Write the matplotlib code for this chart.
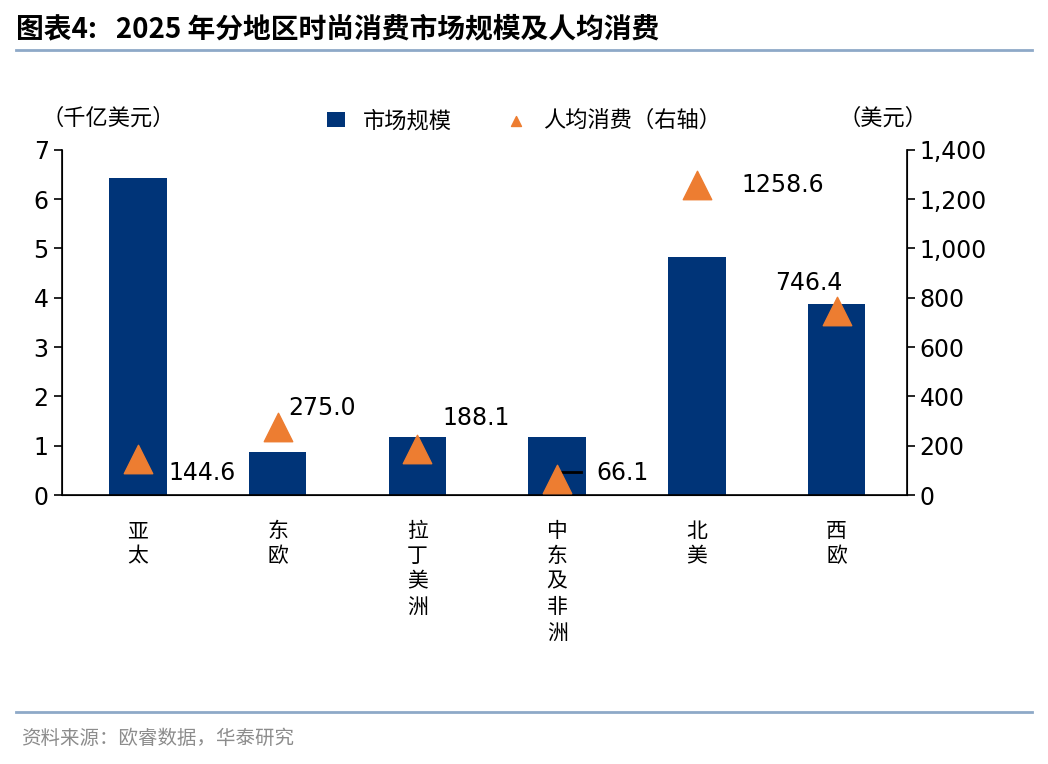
import matplotlib
matplotlib.use("Agg")
import matplotlib.pyplot as plt

plt.rcParams['font.family'] = ['Noto Sans CJK SC', 'DejaVu Sans']

regions = ["亚太", "东欧", "拉丁美洲", "中东及非洲", "北美", "西欧"]
market_size = [6.42, 0.88, 1.18, 1.18, 4.83, 3.87]
per_capita = [144.6, 275.0, 188.1, 66.1, 1258.6, 746.4]
label_offsets = [(22, -10), (8, 14), (18, 22), (28, 4), (32, 0), (-20, 20)]

bar_color = "#003478"
tri_color = "#ED7D31"

fig = plt.figure(figsize=(10.48, 7.64), dpi=100)
ax = fig.add_axes([0.059, 0.352, 0.806, 0.452])
ax2 = ax.twinx()

x = range(len(regions))
ax.bar(x, market_size, width=0.41, color=bar_color, label="市场规模")
ax2.scatter(x, per_capita, marker="^", s=420, color=tri_color, zorder=3,
            label="人均消费（右轴）")
for i, v in enumerate(per_capita):
    dx, dy = label_offsets[i]
    ax2.annotate(f"{v:.1f}", (i, v), xytext=(dx, dy), textcoords="offset points",
                 ha="left" if dx > 0 else "center", va="center", fontsize=17,
                 family="DejaVu Sans")
# small leader line for 中东及非洲
ax2.plot([3.03, 3.17], [95, 95], color="black", lw=2)

ax.set_xlim(-0.544, 5.5)
ax.set_ylim(0, 7)
ax2.set_ylim(0, 1400)
ax.set_yticks(range(8))
ax2.set_yticks(range(0, 1401, 200))
ax2.set_yticklabels([f"{v:,}" for v in range(0, 1401, 200)])
ax.set_xticks(list(x))
ax.set_xticklabels(["\n".join(r) for r in regions], fontsize=15, va="top",
                   linespacing=1.2)
for a in (ax, ax2):
    a.spines['top'].set_visible(False)
    a.tick_params(axis='y', labelsize=17, direction='out', length=6, width=1.2)
    for lab in a.get_yticklabels():
        lab.set_family("DejaVu Sans")
ax.tick_params(axis='x', length=0, pad=18)
ax2.spines['right'].set_linewidth(1.2)
ax.spines['left'].set_linewidth(1.2)
ax.spines['bottom'].set_linewidth(1.2)

h1, l1 = ax.get_legend_handles_labels()
h2, l2 = ax2.get_legend_handles_labels()
leg = fig.legend(h1 + h2, l1 + l2, loc="center", bbox_to_anchor=(0.5, 0.842),
                 ncol=2, frameon=False, fontsize=16, markerscale=0.35,
                 handlelength=0.8, columnspacing=2.5)

fig.text(0.04, 0.845, "（千亿美元）", fontsize=16, va="center")
fig.text(0.8, 0.845, "（美元）", fontsize=16, va="center")

fig.text(0.015, 0.962, "图表4:   2025 年分地区时尚消费市场规模及人均消费",
         fontsize=20, fontweight="bold", va="center")
fig.add_artist(plt.Line2D([0.015, 0.985], [0.935, 0.935], color="#8EA9C8", lw=2))
fig.add_artist(plt.Line2D([0.015, 0.985], [0.068, 0.068], color="#8EA9C8", lw=2))
fig.text(0.02, 0.034, "资料来源：欧睿数据，华泰研究", fontsize=14, color="#8C8C8C",
         va="center")

fig.savefig("out.png", dpi=100)
